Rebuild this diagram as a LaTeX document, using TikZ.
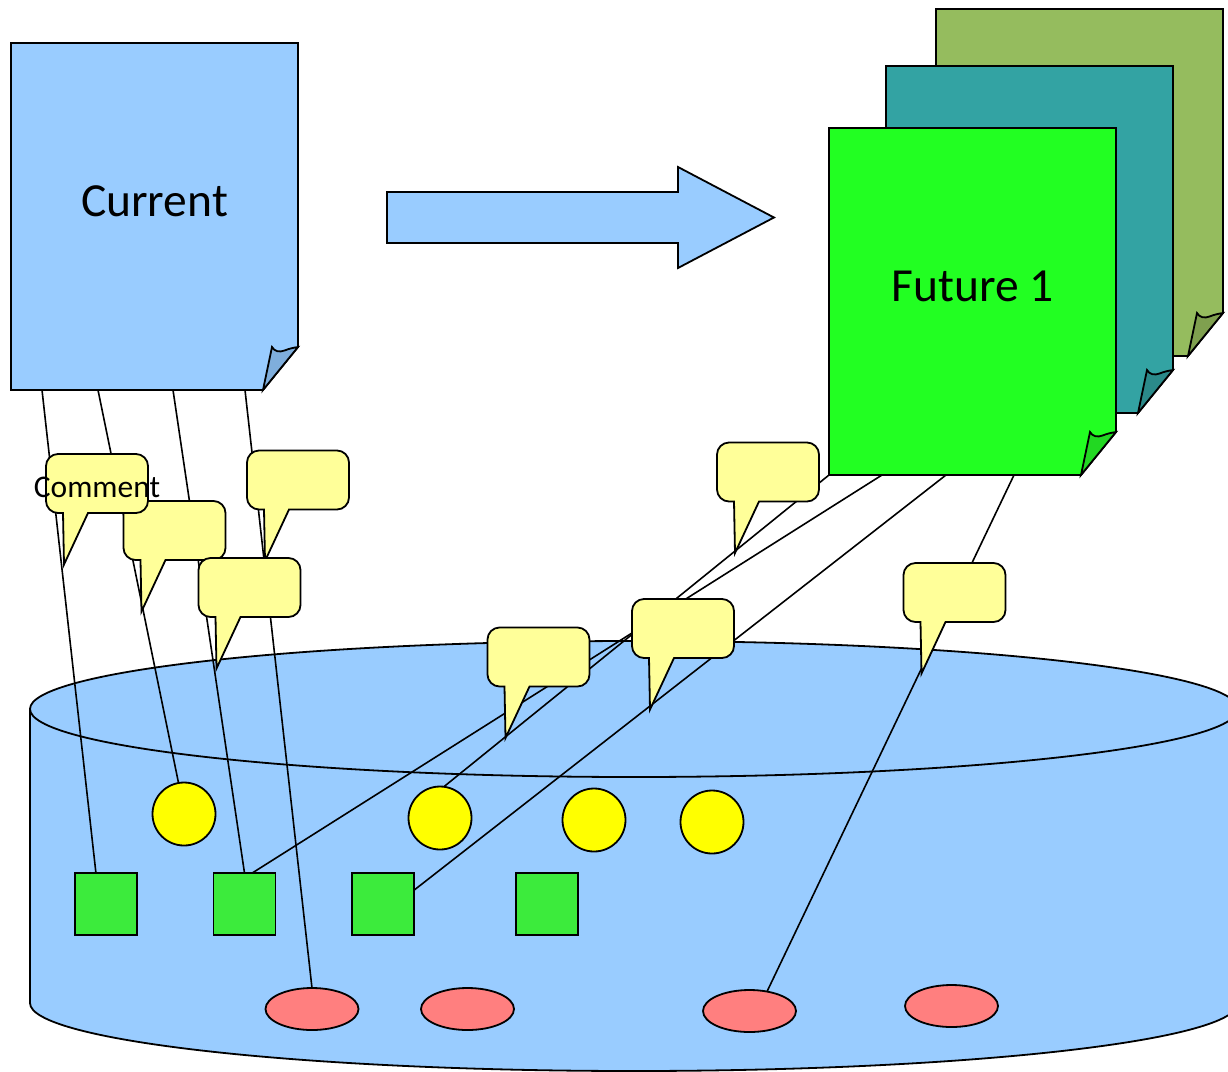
\documentclass[tikz,border=0pt]{standalone}
\usepackage{fontspec}
\setmainfont{Carlito}
\usetikzlibrary{calc,shapes.geometric}

\definecolor{docblue}{HTML}{99CCFF}
\definecolor{docbluefold}{HTML}{7FAEDC}
\definecolor{futgreen}{HTML}{22FF22}
\definecolor{futgreenfold}{HTML}{22D822}
\definecolor{futteal}{HTML}{33A3A3}
\definecolor{futtealfold}{HTML}{2B8A8A}
\definecolor{futolive}{HTML}{95BC5E}
\definecolor{futolivefold}{HTML}{7FA04F}
\definecolor{noteyellow}{HTML}{FFFF99}
\definecolor{dotyellow}{HTML}{FFFF00}
\definecolor{boxgreen}{HTML}{3CEB3C}
\definecolor{ovalred}{HTML}{FF7F7F}

\tikzset{
  outline/.style={draw=black, line width=1.8pt, line join=miter},
  link/.style={draw=black, line width=1.6pt},
  dot/.style={circle, outline, fill=dotyellow, minimum size=63pt, inner sep=0pt, outer sep=0pt},
  item/.style={rectangle, outline, fill=boxgreen, minimum size=62pt, inner sep=0pt, outer sep=0pt},
  oval/.style={ellipse, outline, fill=ovalred, minimum width=93pt, minimum height=42pt, inner sep=0pt, outer sep=0pt},
  % a sheet of paper with a curled lower right corner
  pics/doc/.style n args={3}{code={
    \node[inner sep=0pt, outer sep=0pt, minimum width=287pt, minimum height=347pt] (-body) at (0,0) {};
    \path[outline, fill=#1] (-143.5,-173.5) -- (143.5,-173.5) -- (143.5,130.5) -- (108.5,173.5) -- (-143.5,173.5) -- cycle;
    \path[outline, fill=#2] (108.5,173.5) -- (117.5,130.5)
      .. controls (120,135) and (125,136) .. (130,134)
      .. controls (135,132) and (140,131) .. (143.5,130.5) -- cycle;
    \node[inner sep=0pt, font=\fontsize{47.5}{56}\selectfont] (-label) at (0,-15) {#3};
  }},
  % a speech bubble whose tail points down and to the left
  pics/note/.style={code={
    \path[outline, fill=noteyellow] (-34,29.5) -- (-39,29.5)
      .. controls (-45.6,29.5) and (-51,24.1) .. (-51,17.5) -- (-51,-17.5)
      .. controls (-51,-24.1) and (-45.6,-29.5) .. (-39,-29.5) -- (39,-29.5)
      .. controls (45.6,-29.5) and (51,-24.1) .. (51,-17.5) -- (51,17.5)
      .. controls (51,24.1) and (45.6,29.5) .. (39,29.5) -- (-9,29.5) -- (-33,81) -- cycle;
    \node[inner sep=0pt, outer sep=0pt, minimum width=102pt, minimum height=59pt] (-box) at (0,0) {};
    \node[inner sep=0pt, font=\fontsize{31.5}{36}\selectfont] (-text) at (0,4) {#1};
    \coordinate (-tip) at (-33,81);
  }}
}

\begin{document}
\begin{tikzpicture}[x=1pt, y=-1pt]
\useasboundingbox (0,0) rectangle (1228,1071);

% the repository drum
\fill[docblue] (30,709) -- (30,1003)
  .. controls (30,1040.6) and (300.4,1071) .. (634,1071)
  .. controls (967.6,1071) and (1238,1040.6) .. (1238,1003) -- (1238,709) -- cycle;
\draw[outline] (30,709) -- (30,1003)
  .. controls (30,1040.6) and (300.4,1071) .. (634,1071)
  .. controls (967.6,1071) and (1238,1040.6) .. (1238,1003) -- (1238,709);
\path[outline, fill=docblue] (634,709) ellipse [x radius=604, y radius=68];

% items stored in the drum
\node[dot] (c1) at (184,814) {};
\node[dot] (c2) at (440,818) {};
\node[dot] (c3) at (594,820) {};
\node[dot] (c4) at (712,822) {};
\node[item] (s1) at (106,904) {};
\node[item] (s2) at (244.5,904) {};
\node[item] (s3) at (383,904) {};
\node[item] (s4) at (547,904) {};
\node[oval] (e1) at (312,1009) {};
\node[oval] (e2) at (467.5,1009) {};
\node[oval] (e3) at (749.5,1011) {};
\node[oval] (e4) at (951.5,1006) {};

% documents
\pic (cur) at (154.5,216.5) {doc={docblue}{docbluefold}{Current}};
\pic (f3) at (1079.5,182.5) {doc={futolive}{futolivefold}{}};
\pic (f2) at (1029.5,239.5) {doc={futteal}{futtealfold}{}};
\pic (f1) at (972.5,301.5) {doc={futgreen}{futgreenfold}{Future 1}};

% block arrow between the documents
\path[outline, fill=docblue] (387,192) -- (678,192) -- (678,167) -- (774,217.5)
  -- (678,268) -- (678,243) -- (387,243) -- cycle;

% links from the documents to the stored items
\draw[link] ($(cur-body.south west)+(31,0)$) -- (s1.108);
\draw[link] ($(cur-body.south west)+(87,0)$) -- (c1.100);
\draw[link] ($(cur-body.south west)+(162,0)$) -- (s2.north);
\draw[link] ($(cur-body.south west)+(234,0)$) -- (e1.north);
\draw[link] (f1-body.south west) -- (c2.83);
\draw[link] ($(f1-body.south west)+(53,0)$) -- (s2.76);
\draw[link] ($(f1-body.south west)+(117,0)$) -- (s3.24);
\draw[link] ($(f1-body.south west)+(185,0)$) -- (e3.48);

% comments on the links
\pic (n2) at (174.5,530.5) {note={}};
\pic (n1) at (97,483.5) {note={Comment}};
\pic (n3) at (298,480) {note={}};
\pic (n4) at (249.5,587.5) {note={}};
\pic (n5) at (768,472) {note={}};
\pic (n6) at (683,628.5) {note={}};
\pic (n7) at (538.5,657) {note={}};
\pic (n8) at (954.5,592.5) {note={}};
\end{tikzpicture}
\end{document}
